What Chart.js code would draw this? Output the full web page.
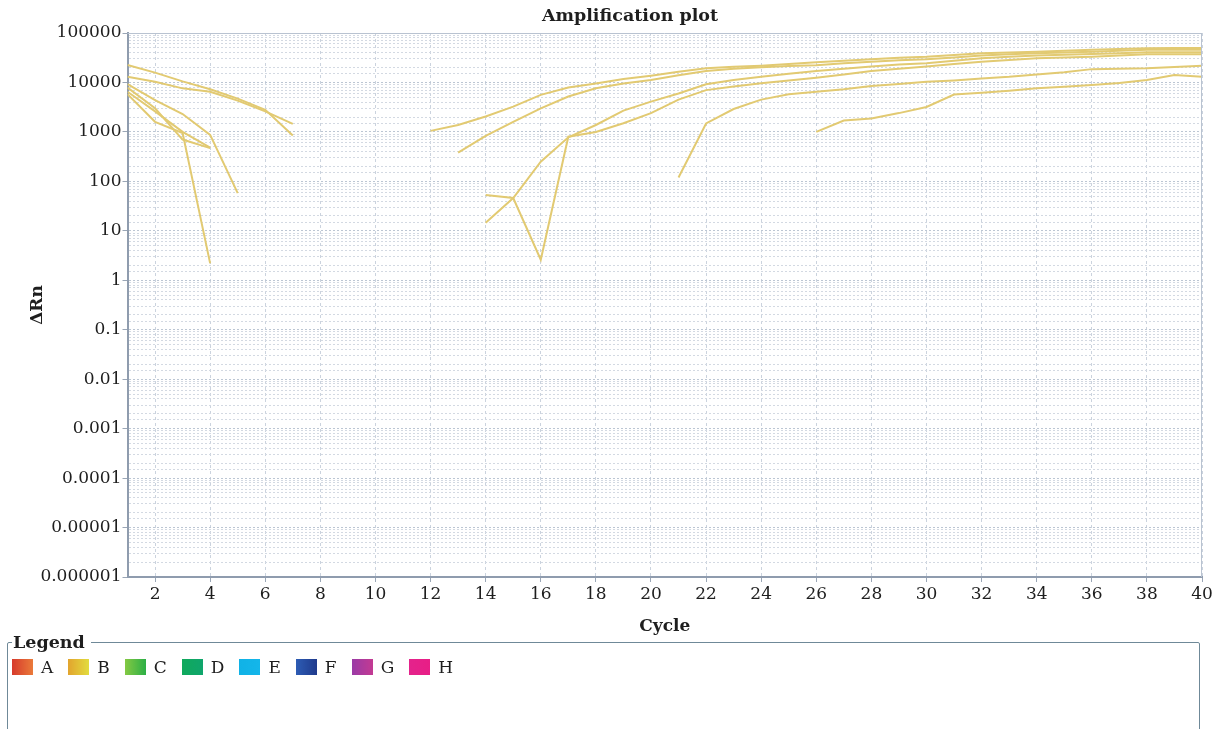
<!DOCTYPE html>
<html>
<head>
<meta charset="utf-8">
<script src="https://cdn.jsdelivr.net/npm/chart.js@4/dist/chart.umd.min.js"></script>
<style>
  html, body { margin: 0; padding: 0; background: #fff; }
  #wrap { position: relative; width: 1215px; height: 729px; overflow: hidden; font-family: "DejaVu Serif", serif; color: #1e1e1e; }
  #plotBox { position: absolute; left: 0; top: 0; width: 1215px; height: 640px; }
  #plotTitle { position: absolute; top: 5px; left: 630px; transform: translateX(-50%); font: bold 17.5px "DejaVu Serif", serif; white-space: nowrap; }
  #legendBox { position: absolute; left: 7px; top: 632px; width: 1193px; height: 140px; margin: 0; padding: 0 0 0 4px; border: 1.5px solid #6f8998; border-radius: 2px; box-sizing: border-box; }
  #legendBox legend { font: bold 17.5px "DejaVu Serif", serif; padding: 0 6px 0 1px; margin-left: 0; }
  #legendItems { display: flex; align-items: center; margin-top: 5px; font-size: 17px; }
  .item { display: flex; align-items: center; margin-right: 15px; }
  .swatch { width: 21px; height: 16px; margin-right: 8px; }
</style>
</head>
<body>
<div id="wrap">
  <div id="plotBox"><canvas id="chart"></canvas></div>
  <div id="plotTitle">Amplification plot</div>
  <fieldset id="legendBox">
    <legend>Legend</legend>
    <div id="legendItems"></div>
  </fieldset>
</div>
<script>
// Cycle ticks shown along the bottom axis
const cycleTicks = [2, 4, 6, 8, 10, 12, 14, 16, 18, 20, 22, 24, 26, 28, 30, 32, 34, 36, 38, 40];
// Decade labels for the log ΔRn axis, from 10^-6 up to 10^5
const deltaRnLabels = ['0.000001', '0.00001', '0.0001', '0.001', '0.01', '0.1', '1', '10', '100', '1000', '10000', '100000'];

// Well traces of row B: first cycle of each trace followed by its ΔRn values
const b1Start = 1;  const b1 = [22500, 15800, 10500, 7300, 4700, 2800, 850];
const b2Start = 1;  const b2 = [13100, 10300, 7600, 6500, 4300, 2600, 1450];
const b3Start = 1;  const b3 = [9300, 4400, 2300, 870, 58];
const b4Start = 1;  const b4 = [7900, 3000, 700, 470];
const b5Start = 1;  const b5 = [6500, 2600, 1000, 480];
const b6Start = 1;  const b6 = [5800, 1600, 950, 2.2];
const b7Start = 12; const b7 = [1050, 1380, 2050, 3250, 5600, 7900, 9500, 11700, 13700, 16500, 19400, 20800, 21800, 23500, 25500, 27500, 29600, 31500, 33000, 36000, 39000, 40500, 42000, 44000, 45700, 47500, 49000, 49500, 50000];
const b8Start = 13; const b8 = [380, 830, 1600, 3000, 5200, 7600, 9500, 11200, 14000, 17000, 19000, 20300, 21500, 22400, 24500, 26300, 28000, 29500, 32000, 35000, 37000, 39000, 40500, 42000, 44000, 45700, 45700, 45700];
const b9Start = 14; const b9 = [14.5, 46, 250, 780, 1380, 2700, 4100, 6000, 9200, 11200, 13100, 15000, 17000, 19000, 21000, 23000, 24500, 27500, 31000, 33000, 35000, 36500, 37600, 39000, 40700, 40700, 40700];
const b10Start = 14; const b10 = [53, 46, 2.6, 800, 1000, 1500, 2400, 4500, 7000, 8300, 9600, 11000, 12500, 14500, 17000, 19000, 21000, 23500, 26300, 28500, 31000, 32000, 33000, 35000, 37300, 37000, 37000];
const b11Start = 21; const b11 = [120, 1480, 2900, 4500, 5800, 6500, 7300, 8500, 9300, 10300, 11000, 12000, 13000, 14500, 16000, 18600, 19000, 19400, 20500, 21800];
const b12Start = 26; const b12 = [1000, 1700, 1870, 2400, 3200, 5700, 6200, 6800, 7600, 8200, 8900, 9800, 11200, 14100, 13100];

// Plate row names with their swatch gradients
const rowNames = ['A', 'B', 'C', 'D', 'E', 'F', 'G', 'H'];
const rowColorsFrom = ['#d63a2c', '#e2a42e', '#84c943', '#10a95c', '#10b2e6', '#2d5cb4', '#9a3aa6', '#e4238c'];
const rowColorsTo   = ['#ea7a3a', '#e2dc3e', '#2caf46', '#0fa56c', '#14b6ea', '#1f3a8c', '#c33a92', '#e81e86'];

const traceColor = '#e2ca72';

const traces = [
  [b1Start, b1], [b2Start, b2], [b3Start, b3], [b4Start, b4], [b5Start, b5], [b6Start, b6],
  [b7Start, b7], [b8Start, b8], [b9Start, b9], [b10Start, b10], [b11Start, b11], [b12Start, b12]
];

const datasets = traces.map(([start, vals], i) => ({
  label: 'B' + (i + 1),
  data: vals.map((v, k) => ({ x: start + k, y: v })),
  borderColor: traceColor,
  borderWidth: 2,
  pointRadius: 0,
  tension: 0,
  fill: false
}));

const isDecade = v => Math.abs(Math.log10(v) - Math.round(Math.log10(v))) < 1e-9;

// Thin frame around the plotting area
const plotFrame = {
  id: 'plotFrame',
  afterDraw(chart) {
    const { ctx, chartArea: a } = chart;
    ctx.save();
    ctx.strokeStyle = '#b9c3d1';
    ctx.lineWidth = 1;
    ctx.beginPath();
    ctx.moveTo(a.left, a.top + 0.5);
    ctx.lineTo(a.right - 0.5, a.top + 0.5);
    ctx.lineTo(a.right - 0.5, a.bottom);
    ctx.stroke();
    ctx.restore();
  }
};

new Chart(document.getElementById('chart'), {
  type: 'line',
  data: { datasets },
  plugins: [plotFrame],
  options: {
    responsive: true,
    maintainAspectRatio: false,
    animation: false,
    layout: { padding: { top: 33, right: 13, left: 0, bottom: 0 } },
    plugins: {
      legend: { display: false },
      title: { display: false },
      tooltip: { enabled: false }
    },
    scales: {
      x: {
        type: 'linear',
        min: 1,
        max: 40,
        afterBuildTicks: s => { s.ticks = cycleTicks.map(v => ({ value: v })); },
        afterFit: s => { s.height = 63; },
        ticks: { font: { family: 'DejaVu Serif', size: 17 }, color: '#1e1e1e', padding: 2, maxRotation: 0, autoSkip: false },
        grid: { color: '#cbd3de', lineWidth: 1, tickLength: 5, tickColor: '#9aa6b6', tickBorderDash: [] },
        border: { display: true, color: '#8f9cae', width: 2, dash: [3, 3] },
        title: { display: true, text: 'Cycle', font: { family: 'DejaVu Serif', size: 17, weight: 'bold' }, color: '#1e1e1e', padding: { top: 0, bottom: 3 } }
      },
      y: {
        type: 'logarithmic',
        min: 1e-6,
        max: 1e5,
        afterFit: s => { s.width = 127.5; },
        ticks: {
          autoSkip: false,
          padding: 1,
          font: { family: 'DejaVu Serif', size: 17 },
          color: '#1e1e1e',
          callback: v => isDecade(v) ? deltaRnLabels[Math.round(Math.log10(v)) + 6] : ''
        },
        grid: {
          color: c => (c.tick && isDecade(c.tick.value)) ? '#bcc6d3' : '#d3d9e2',
          lineWidth: 1,
          tickLength: 5,
          tickColor: c => (c.tick && isDecade(c.tick.value)) ? '#9aa6b6' : 'rgba(0,0,0,0)',
          tickBorderDash: []
        },
        border: { display: true, color: '#8f9cae', width: 2, dash: [2, 2] },
        title: { display: true, text: 'ΔRn', font: { family: 'DejaVu Serif', size: 17, weight: 'bold' }, color: '#1e1e1e', padding: { top: 27, bottom: 0 } }
      }
    }
  }
});

// Row legend under the plot
const legendItems = document.getElementById('legendItems');
rowNames.forEach((name, i) => {
  const item = document.createElement('div');
  item.className = 'item';
  const sw = document.createElement('span');
  sw.className = 'swatch';
  sw.style.background = `linear-gradient(to right, ${rowColorsFrom[i]}, ${rowColorsTo[i]})`;
  const txt = document.createElement('span');
  txt.textContent = name;
  item.appendChild(sw);
  item.appendChild(txt);
  legendItems.appendChild(item);
});
</script>
</body>
</html>
